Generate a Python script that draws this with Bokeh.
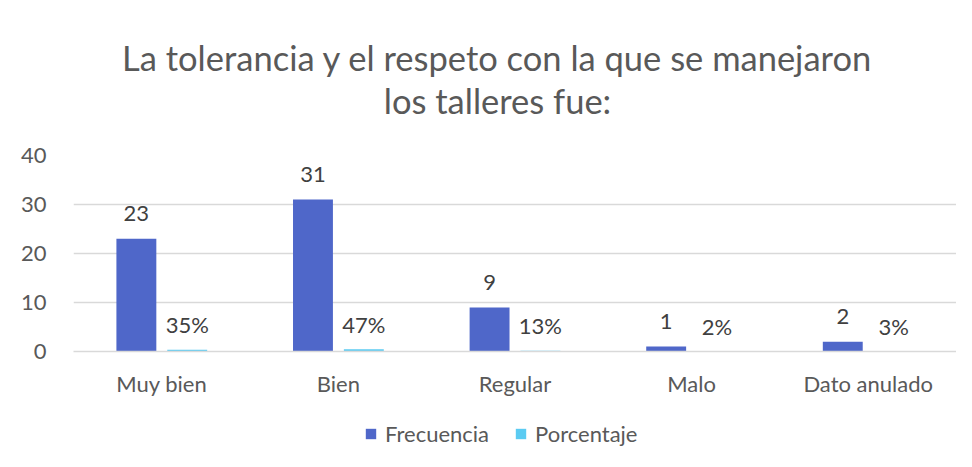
from bokeh.plotting import figure
from bokeh.models import ColumnDataSource, LabelSet, Label, Legend, LegendItem, FactorRange, Range1d
from bokeh.core.properties import value
from bokeh.transform import dodge
from bokeh.layouts import column
from bokeh.embed import file_html
from bokeh.resources import INLINE

categories = ["Muy bien", "Bien", "Regular", "Malo", "Dato anulado"]
frecuencia = [23, 31, 9, 1, 2]
porcentaje = [0.35, 0.47, 0.13, 0.02, 0.03]
porcentaje_labels = ["35%", "47%", "13%", "2%", "3%"]
y_ticks = [0, 10, 20, 30, 40]
title_lines = ["La tolerancia y el respeto con la que se manejaron", "los talleres fue:"]
series_names = ["Frecuencia", "Porcentaje"]

FONT = "Lato"
C_FREC = "#4F67C9"
C_PORC = "#5BCBF2"
LBL = "22px"
GREY = "#595959"

src = ColumnDataSource(data=dict(
    cat=categories,
    frec=frecuencia,
    porc=porcentaje,
    frec_lab=[str(v) for v in frecuencia],
    porc_lab=porcentaje_labels,
))

# ---- title strip ----
pt = figure(width=956, height=130, x_range=Range1d(0, 1), y_range=Range1d(0, 1),
            output_backend="svg", toolbar_location=None, x_axis_type=None, y_axis_type=None,
            min_border=0)
pt.outline_line_color = None
pt.xgrid.grid_line_color = None
pt.ygrid.grid_line_color = None
for txt, ys in zip(title_lines, [73, 30]):
    pt.add_layout(Label(x=424, y=ys, x_units="screen", y_units="screen", text=txt,
                        text_align="center", text_baseline="middle", text_font=FONT,
                        text_font_size="34.5px", text_color=GREY))

# ---- main chart ----
p = figure(width=956, height=270, x_range=FactorRange(*categories), y_range=(0, 40),
           output_backend="svg", toolbar_location=None,
           min_border_left=73, min_border_right=0, min_border_bottom=49, min_border_top=25)
p.title = None

r1 = p.vbar(x=dodge("cat", -0.144, range=p.x_range), top="frec", width=0.226, source=src,
            fill_color=C_FREC, line_color=None)
r2 = p.vbar(x=dodge("cat", 0.144, range=p.x_range), top="porc", width=0.226, source=src,
            fill_color=C_PORC, line_color=None)

lab1 = LabelSet(x=dodge("cat", -0.144, range=p.x_range), y="frec", text="frec_lab", source=src,
                text_align="center", text_baseline="middle", y_offset=25,
                text_font=value(FONT), text_font_size=value(LBL), text_color="#404040")
lab2 = LabelSet(x=dodge("cat", 0.144, range=p.x_range), y="porc", text="porc_lab", source=src,
                text_align="center", text_baseline="middle", y_offset=25,
                text_font=value(FONT), text_font_size=value(LBL), text_color="#404040")
p.add_layout(lab1)
p.add_layout(lab2)

p.yaxis.ticker = y_ticks
p.yaxis.axis_line_color = None
p.yaxis.major_tick_line_color = None
p.yaxis.minor_tick_line_color = None
p.yaxis.major_label_text_font = FONT
p.yaxis.major_label_text_font_size = LBL
p.yaxis.major_label_text_color = GREY
p.yaxis.major_label_standoff = 21

p.xaxis.axis_line_color = "#d9d9d9"
p.xaxis.axis_line_width = 1.5
p.xaxis.major_tick_line_color = None
p.xaxis.minor_tick_line_color = None
p.xaxis.major_label_text_font = FONT
p.xaxis.major_label_text_font_size = LBL
p.xaxis.major_label_text_color = GREY
p.xaxis.major_label_standoff = 12

p.xgrid.grid_line_color = None
p.ygrid.grid_line_color = "#d9d9d9"
p.ygrid.grid_line_width = 1.5
p.outline_line_color = None

# ---- legend strip (its bars lie far outside its view; only the legend shows) ----
pl = figure(width=956, height=51, x_range=FactorRange(*categories), y_range=Range1d(1000, 1001),
            output_backend="svg", toolbar_location=None, x_axis_type=None, y_axis_type=None,
            min_border=0)
pl.outline_line_color = None
pl.xgrid.grid_line_color = None
pl.ygrid.grid_line_color = None
g1 = pl.vbar(x="cat", top="frec", width=0.2, source=src, fill_color=C_FREC, line_color=None)
g2 = pl.vbar(x="cat", top="porc", width=0.2, source=src, fill_color=C_PORC, line_color=None)
legend = Legend(items=[LegendItem(label=series_names[0], renderers=[g1]),
                       LegendItem(label=series_names[1], renderers=[g2])],
                orientation="horizontal", location=(291, 4),
                label_text_font=FONT, label_text_font_size=LBL, label_text_color=GREY,
                glyph_width=13, glyph_height=13, spacing=25, border_line_color=None,
                background_fill_alpha=0, margin=0, padding=0, label_standoff=8)
pl.add_layout(legend)

layout = column(pt, p, pl, spacing=0)
open("out.html", "w").write(file_html(layout, INLINE))
